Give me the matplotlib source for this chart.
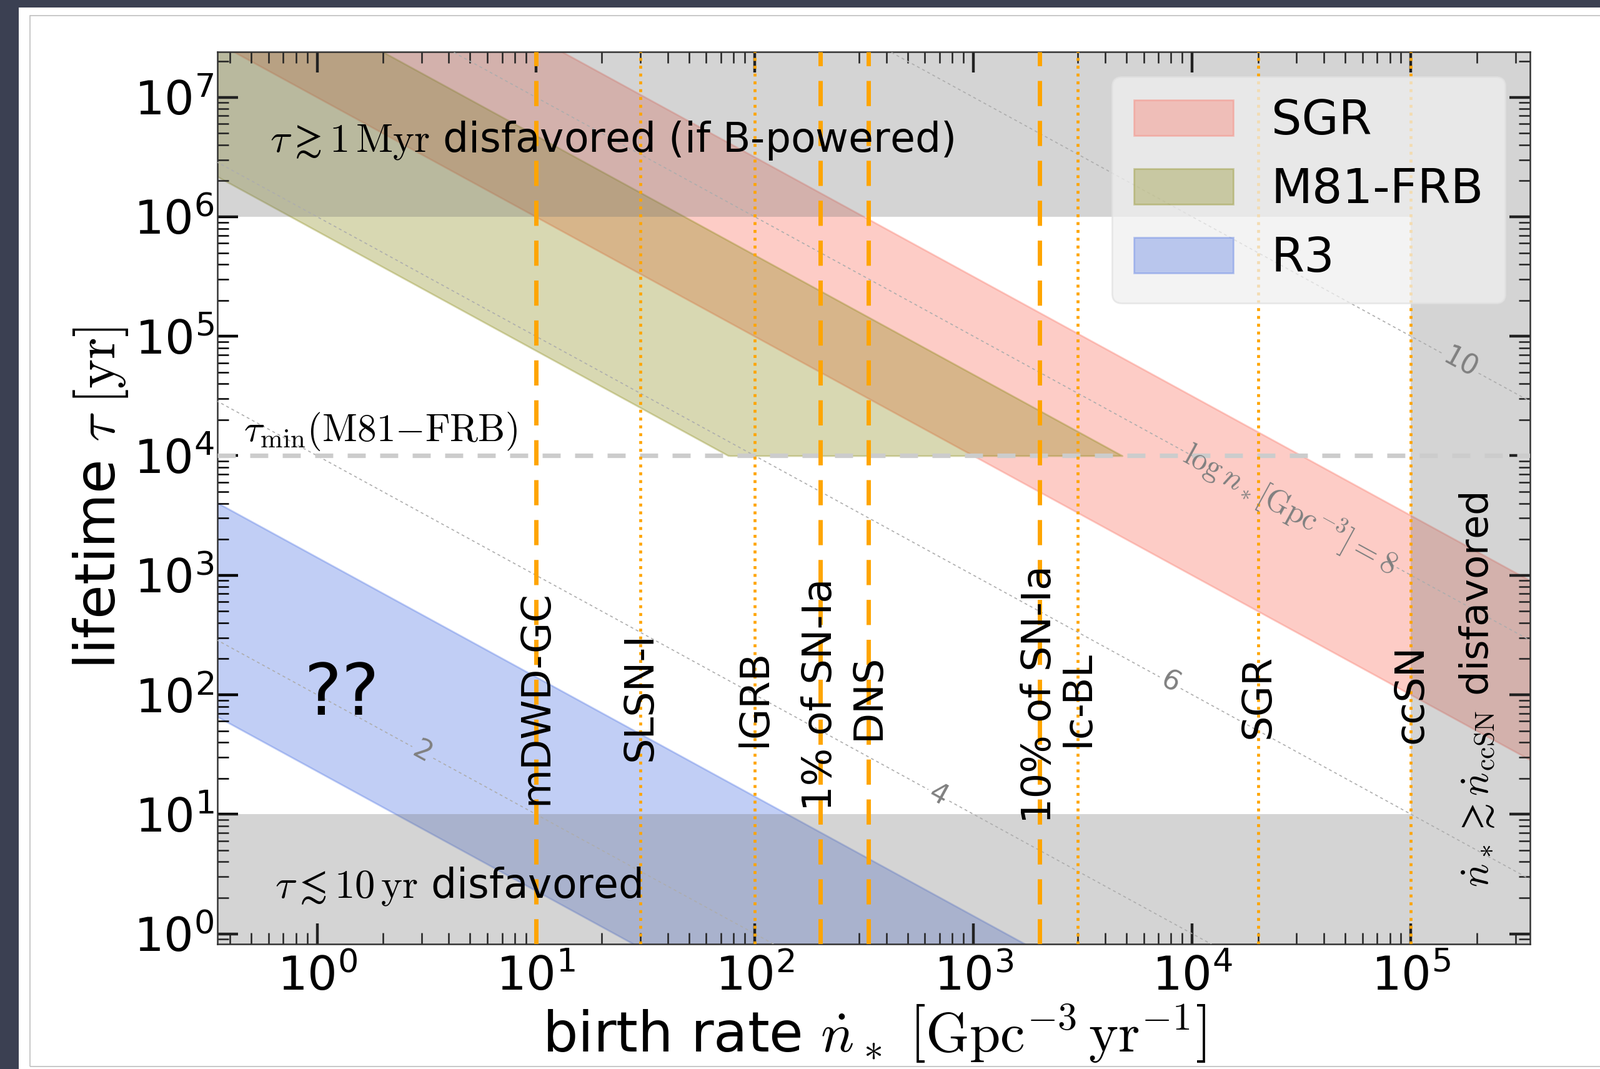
import matplotlib
matplotlib.use('Agg')
import matplotlib.pyplot as plt
import numpy as np
from matplotlib.patches import Rectangle
from matplotlib.ticker import LogLocator, NullFormatter

plt.rcParams['font.family'] = 'DejaVu Sans'
plt.rcParams['mathtext.fontset'] = 'cm'
plt.rcParams['lines.dashed_pattern'] = [2.8, 2.8]

# axis ranges
xlim = (0.35, 3.5e5)
ylim = (0.82, 2.4e7)

# source bands, in log10 n_* = log10(birth rate * lifetime) [Gpc^-3]
band_names = ['SGR', 'M81-FRB', 'R3']
band_logn_lo = [7.0, 5.88, 1.36]
band_logn_hi = [8.5, 7.68, 3.15]
band_colors = ['salmon', 'olive', 'royalblue']
band_alphas = [0.4, 0.3, 0.32]
tau_min_m81 = 1e4

# birth rates of known populations [Gpc^-3 yr^-1]
rate_names = ['mDWD-GC', 'SLSN-I', 'lGRB', '1% of SN-Ia', 'DNS',
              '10% of SN-Ia', 'Ic-BL', 'SGR', 'ccSN']
rate_vals = [10, 30, 100, 200, 330, 2000, 3000, 2e4, 1e5]
rate_dashed = [True, False, False, True, True, True, False, False, False]
rate_label_y = [12, 28, 36.6, 10.6, 42, 8.4, 36.6, 43, 39]

# iso-n_* lines
contour_levels = [2, 4, 6, 8, 10]
contour_fmt = {2: '2', 4: '4', 6: '6',
               8: r'$\log n_*[{\rm Gpc}^{-3}]{=}8$', 10: '10'}
contour_label_pos = [(3, 31.6), (700, 14.8), (8000, 130),
                     (2.8e4, 3.5e3), (1.7e5, 6.2e4)]

# disfavored regions
tau_max = 1e6
tau_low = 10
ndot_ccsn = 1e5

#Figure, dark backdrop with white paper
fig = plt.figure(figsize=(12.805, 8.555), dpi=200)
fig.patch.set_facecolor('#3b4052')
fig.add_artist(Rectangle((30/2561, 0), 1, 1-12/1711, transform=fig.transFigure,
                         facecolor='white', edgecolor='none', zorder=-10))
fig.add_artist(Rectangle((48/2561, 4/1711), 1, 1-29/1711, transform=fig.transFigure,
                         fill=False, edgecolor='0.75', lw=0.6, zorder=-9))

ax = fig.add_axes([348/2561, 1-1511/1711, (2449-348)/2561, (1511-83)/1711])
ax.set_xscale('log')
ax.set_yscale('log')
ax.set_xlim(xlim)
ax.set_ylim(ylim)

#bands
x = np.logspace(np.log10(xlim[0]), np.log10(xlim[1]), 600)
for name, lo_n, hi_n, c, a in zip(band_names, band_logn_lo, band_logn_hi, band_colors, band_alphas):
    lo = 10**lo_n / x
    hi = 10**hi_n / x
    if name == 'M81-FRB':
        lo = np.maximum(lo, tau_min_m81)
        ax.fill_between(x, lo, hi, where=hi > lo, interpolate=True,
                        color=c, alpha=a, lw=1, label=name, zorder=1)
    else:
        ax.fill_between(x, lo, hi, color=c, alpha=a, lw=1, label=name, zorder=1)

#disfavored regions
gray = (0.45, 0.45, 0.45)
ax.fill_between([xlim[0], ndot_ccsn], tau_max, ylim[1], color=gray, alpha=0.3, lw=0, zorder=2)
ax.fill_between([xlim[0], ndot_ccsn], ylim[0], tau_low, color=gray, alpha=0.3, lw=0, zorder=2)
ax.axvspan(ndot_ccsn, xlim[1], color=gray, alpha=0.3, lw=0, zorder=2)

#iso n_* lines
gx = np.logspace(-1, 6, 300)
gy = np.logspace(-1, 8, 300)
GX, GY = np.meshgrid(gx, gy)
cs = ax.contour(GX, GY, np.log10(GX*GY), levels=contour_levels, colors='0.68',
                linewidths=0.6, linestyles='dashed', zorder=3)
lbls = ax.clabel(cs, fmt=contour_fmt, inline=True, fontsize=16,
                 manual=contour_label_pos, colors='0.5')
for t in lbls:
    if 'Gpc' in t.get_text():
        t.set_fontsize(18)

ax.axhline(tau_min_m81, color='0.8', lw=2.6, dashes=(4, 3.2), zorder=3)

#known rates
for v, d, name, yl in zip(rate_vals, rate_dashed, rate_names, rate_label_y):
    if d:
        ax.axvline(v, color='orange', lw=2.5, dashes=(5.8, 3.4), zorder=4)
    else:
        ax.axvline(v, color='orange', lw=1.7, ls=':', zorder=4)
    ax.text(v, yl, name, rotation=90, ha='center', va='bottom', fontsize=23, zorder=5)

#annotations
ax.text(0.61, 3.5e6, r'$\tau \gtrsim 1\,{\rm Myr}$ disfavored (if B-powered)',
        fontsize=23.3, va='baseline', zorder=5)
ax.text(0.64, 2.0, r'$\tau \lesssim 10\,{\rm yr}$ disfavored',
        fontsize=23.3, va='baseline', zorder=5)
ax.text(0.46, 1.32e4, r'$\tau_{\rm min}({\rm M81{-}FRB})$',
        fontsize=22, va='baseline', zorder=5)
ax.text(1.3, 68, '??', fontsize=41, ha='center', va='baseline', zorder=5)
ax.text(2e5, 110, r'$\dot{n}_* \gtrsim \dot{n}_{\rm ccSN}$ disfavored',
        rotation=90, ha='center', va='center', fontsize=22.5, zorder=5)

#axes style
ax.xaxis.set_major_locator(LogLocator(base=10, numticks=100))
ax.yaxis.set_major_locator(LogLocator(base=10, numticks=100))
ax.xaxis.set_minor_locator(LogLocator(base=10, subs=np.arange(2, 10), numticks=100))
ax.yaxis.set_minor_locator(LogLocator(base=10, subs=np.arange(2, 10), numticks=100))
ax.xaxis.set_minor_formatter(NullFormatter())
ax.yaxis.set_minor_formatter(NullFormatter())
ax.tick_params(which='both', direction='in', top=True, right=True)
ax.tick_params(which='major', length=12, width=1.6, labelsize=27)
ax.tick_params(which='minor', length=6.5, width=0.9)
ax.tick_params(axis='x', which='major', pad=6)
ax.tick_params(axis='y', which='major', pad=2)
for s in ax.spines.values():
    s.set_linewidth(0.9)
    s.set_color('0.2')

ax.set_xlabel(r'birth rate $\dot{n}_*\ \left[{\rm Gpc}^{-3}\,{\rm yr}^{-1}\right]$',
              fontsize=32, labelpad=2)
ax.set_ylabel(r'lifetime $\tau\;[{\rm yr}]$', fontsize=32, labelpad=2)

leg = ax.legend(loc='upper right', fontsize=27.5, handlelength=2.08, handleheight=0.78,
                handletextpad=0.8, labelspacing=0.47, borderaxespad=0.52, borderpad=0.45,
                framealpha=0.75, facecolor='#efefef', edgecolor='#e2e2e2', fancybox=True)
leg.set_zorder(10)

fig.savefig('out.png', dpi=200, facecolor=fig.get_facecolor())
